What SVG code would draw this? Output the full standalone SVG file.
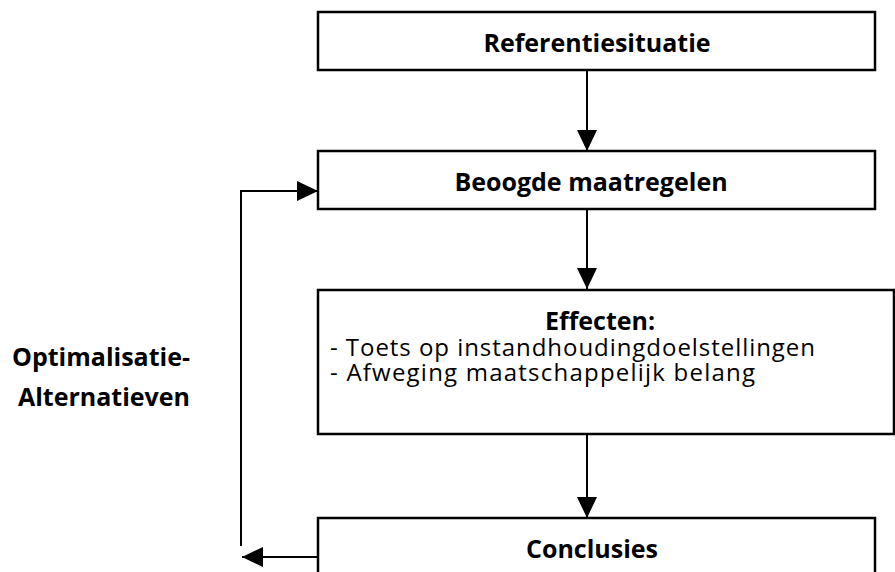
<svg xmlns="http://www.w3.org/2000/svg" width="895" height="572" viewBox="0 0 895 572">
<defs>
<style>
.box{fill:#fff;stroke:#000;stroke-width:2.5}
.ln{fill:none;stroke:#000;stroke-width:2}
.b{font-family:"Open Sans","DejaVu Sans",sans-serif;font-weight:bold;font-size:25px;fill:#000}
.r{font-family:"Open Sans","DejaVu Sans",sans-serif;font-size:24px;fill:#000}
</style>
<marker id="ah" markerWidth="21" markerHeight="20" refX="21" refY="10" orient="auto" markerUnits="userSpaceOnUse">
<path d="M0,0 L21,10 L0,20 Z" fill="#000"/>
</marker>
</defs>
<rect width="895" height="572" fill="#fff"/>
<g id="connectors">
<line class="ln" x1="587" y1="70" x2="587" y2="151" marker-end="url(#ah)"/>
<line class="ln" x1="587" y1="209" x2="587" y2="289" marker-end="url(#ah)"/>
<line class="ln" x1="587" y1="434" x2="587" y2="518" marker-end="url(#ah)"/>
<line class="ln" x1="318" y1="557" x2="242" y2="557" marker-end="url(#ah)"/>
<polyline class="ln" points="241,546 241,191 318,191" marker-end="url(#ah)"/>
</g>
<g id="referentiesituatie">
<rect class="box" x="318" y="12" width="557" height="58"/>
<text class="b" x="597" y="52" text-anchor="middle">Referentiesituatie</text>
</g>
<g id="beoogde-maatregelen">
<rect class="box" x="318" y="151" width="557" height="58"/>
<text class="b" x="591" y="191" text-anchor="middle">Beoogde maatregelen</text>
</g>
<g id="effecten">
<rect class="box" x="318" y="290" width="576" height="144"/>
<text class="b" x="600" y="330" text-anchor="middle">Effecten:</text>
<text class="r" x="330" y="356" textLength="485" lengthAdjust="spacing">- Toets op instandhoudingdoelstellingen</text>
<text class="r" x="330" y="381" textLength="425" lengthAdjust="spacing">- Afweging maatschappelijk belang</text>
</g>
<g id="conclusies">
<rect class="box" x="318" y="518" width="557" height="70"/>
<text class="b" x="592" y="558" text-anchor="middle">Conclusies</text>
</g>
<g id="optimalisatie">
<text class="b" x="101" y="366" text-anchor="middle">Optimalisatie-</text>
<text class="b" x="104" y="406" text-anchor="middle">Alternatieven</text>
</g>
</svg>
